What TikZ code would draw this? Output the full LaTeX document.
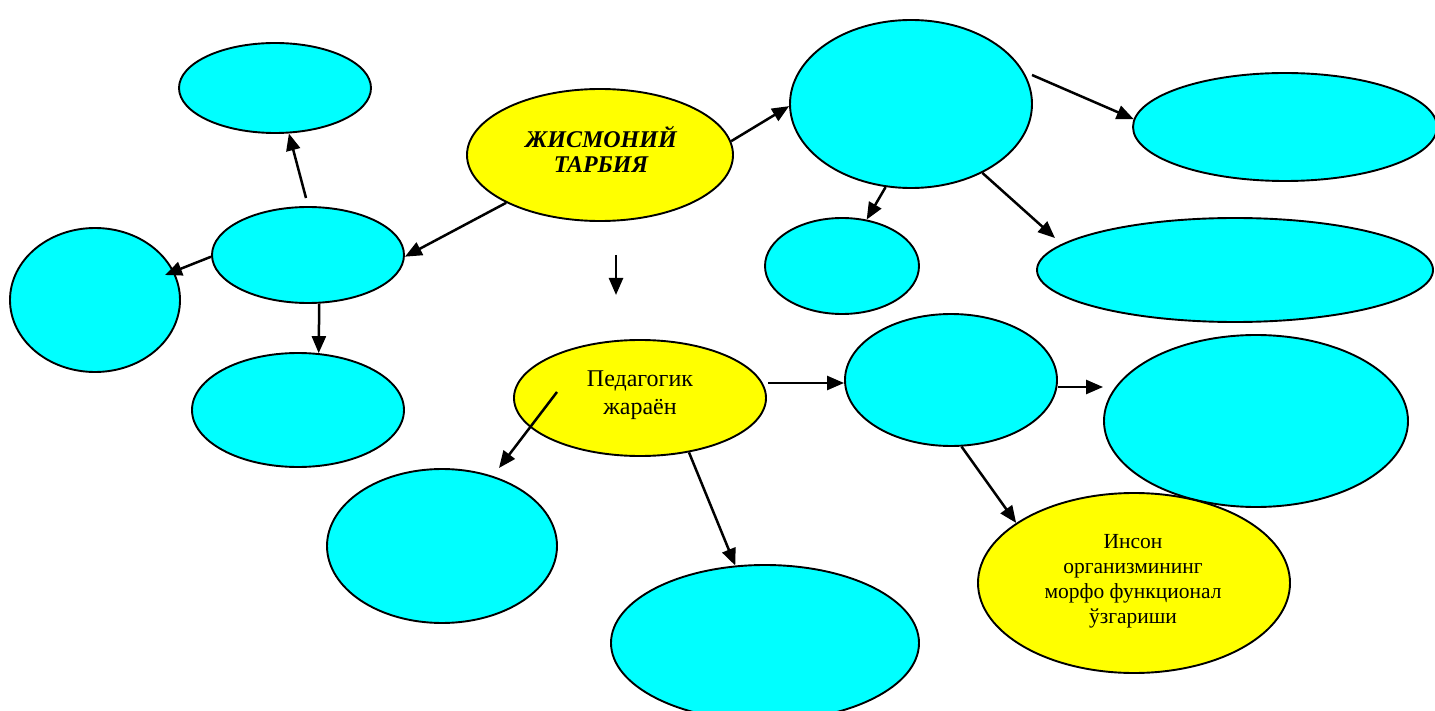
\documentclass[tikz,border=0pt]{standalone}
\usepackage{fontspec}
\setmainfont{Liberation Serif}
\usetikzlibrary{shapes.geometric,arrows.meta}
\definecolor{aqua}{RGB}{0,255,255}
\definecolor{yel}{RGB}{255,255,0}
\begin{document}
\begin{tikzpicture}[x=1pt,y=-1pt,
  ell/.style={ellipse,draw=black,line width=1.9pt,inner sep=0pt},
  cy/.style={ell,fill=aqua},
  yl/.style={ell,fill=yel},
  txt/.style={align=center,font=\fontsize{21.5}{25}\selectfont,inner sep=0pt},
  arr/.style={line width=2.5pt,-{Triangle[length=17pt,width=14pt]}}]
\useasboundingbox (0,0) rectangle (1435,711);
\clip (0,0) rectangle (1435,711);
% nodes
\node[cy,minimum width=192pt,minimum height=90pt] (A) at (275,88) {};
\node[cy,minimum width=192pt,minimum height=96pt] (B) at (308,255) {};
\node[cy,minimum width=170pt,minimum height=144pt] (C) at (95,300) {};
\node[cy,minimum width=212pt,minimum height=114pt] (D) at (298,410) {};
\node[yl,minimum width=266pt,minimum height=132pt] (J) at (600,155) {};
\node[txt,font=\fontsize{24}{25}\selectfont\bfseries\itshape] (Jt) at (601,149) {ЖИСМОНИЙ\\ТАРБИЯ};
\node[cy,minimum width=242pt,minimum height=168pt] (E) at (911,104) {};
\node[cy,minimum width=304pt,minimum height=108pt] (F) at (1285,127) {};
\node[cy,minimum width=154pt,minimum height=96pt] (G) at (842,266) {};
\node[cy,minimum width=396pt,minimum height=104pt] (H) at (1235,270) {};
\node[yl,minimum width=252pt,minimum height=116pt] (P) at (640,398) {};
\node[txt,font=\fontsize{24}{28}\selectfont] (Pt) at (640,395) {Педагогик\\жараён};
\node[cy,minimum width=212pt,minimum height=132pt] (K) at (951,380) {};
\node[cy,minimum width=304pt,minimum height=172pt] (L) at (1256,421) {};
\node[yl,minimum width=312pt,minimum height=180pt] (I) at (1134,583) {};
\node[txt] (It) at (1133,581) {Инсон\\организмининг\\морфо функционал\\ўзгариши};
\node[cy,minimum width=230pt,minimum height=154pt] (M) at (442,546) {};
\node[cy,minimum width=308pt,minimum height=156pt] (N) at (765,643) {};
% free coordinates
\coordinate (b1) at (306,198);
\coordinate (c1) at (165,275);
\coordinate (f1) at (616,255);
\coordinate (f2) at (616,295);
\coordinate (e1) at (1032,75);
\coordinate (h1) at (1055,238);
\coordinate (p1) at (557,392);
\coordinate (m1) at (499,468);
\coordinate (p2) at (768,383);
\coordinate (k2) at (1058,387);
% connectors
\draw[arr] (b1) -- (A.-73.9);
\draw[arr] (J.-153.9) -- (B.-1.2);
\draw[arr] (B.181.8) -- (c1);
\draw[arr] (B.-77.1) -- (D.70.1);
\draw[arr] (f1) -- (f2);
\draw[arr] (J.6.7) -- (E.181.4);
\draw[arr] (e1) -- (F.177.7);
\draw[arr] (E.-107.2) -- (G.62.4);
\draw[arr] (E.-44.6) -- (h1);
\draw[arr] (p1) -- (m1);
\draw[arr] (p2) -- (p2 -| K.west);
\draw[arr] (k2) -- (k2 -| L.west);
\draw[arr] (K.-81.5) -- (I.153.3);
\draw[arr] (P.-48.6) -- (N.111);
\end{tikzpicture}
\end{document}
